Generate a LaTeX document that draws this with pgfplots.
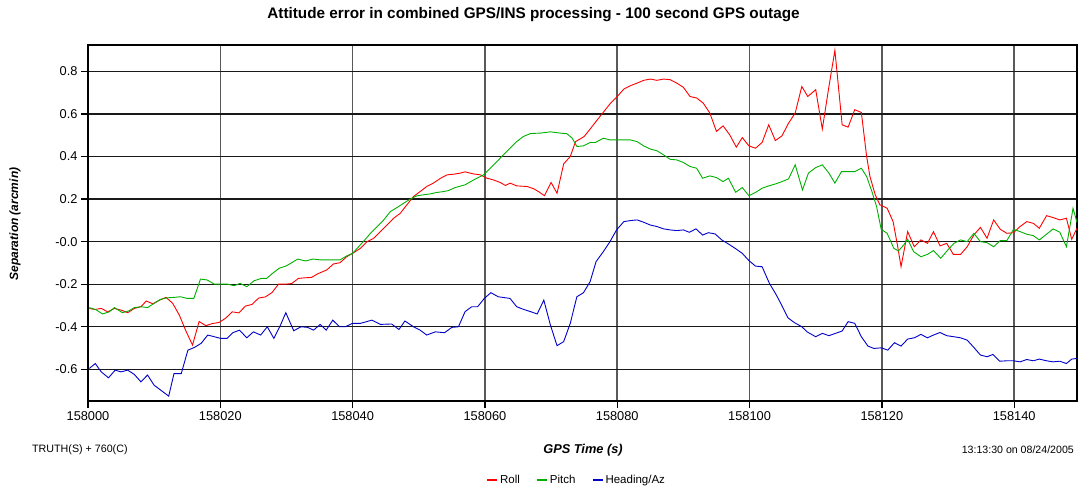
\documentclass[border=0pt]{standalone}
\usepackage{pgfplots}
\pgfplotsset{compat=1.18}
\usepackage{fontspec}
\setmainfont{Liberation Sans}
\definecolor{cRoll}{RGB}{255,0,0}
\definecolor{cPitch}{RGB}{0,176,0}
\definecolor{cHead}{RGB}{0,0,200}
\begin{document}
\begin{tikzpicture}
\path[use as bounding box] (0pt,0pt) rectangle (1078pt,491pt);
\node[font=\bfseries\fontsize{15.3}{18}\selectfont] at (533.5pt,476pt) {Attitude error in combined GPS/INS processing - 100 second GPS outage};
\node[font=\bfseries\itshape\fontsize{12}{14}\selectfont, rotate=90] at (15pt,267pt) {Separation (arcmin)};
\node[font=\bfseries\itshape\fontsize{12.8}{14}\selectfont] at (583pt,41pt) {GPS Time (s)};
\node[font=\fontsize{10.7}{12}\selectfont, anchor=west, inner sep=0pt] at (32pt,41pt) {TRUTH(S) + 760(C)};
\node[font=\fontsize{10.6}{12}\selectfont, anchor=east, inner sep=0pt] at (1074pt,41pt) {13:13:30 on 08/24/2005};
\begin{axis}[
  at={(88pt,90pt)}, anchor=south west,
  scale only axis, width=989pt, height=356pt,
  xmin=0, xmax=149.5, ymin=-0.749, ymax=0.924,
  xtick={0,20,40,60,80,100,120,140},
  xticklabels={158000,158020,158040,158060,158080,158100,158120,158140},
  ytick={-0.6,-0.4,-0.2,0,0.2,0.4,0.6,0.8},
  yticklabels={-0.6,-0.4,-0.2,-0.0,0.2,0.4,0.6,0.8},
  tick label style={font=\fontsize{12.8}{14}\selectfont},
  tick pos=left, tick align=outside, major tick length=7pt,
  tick style={line width=1.3pt, black},
  grid=major,
  major x grid style={line width=1.5pt, black!65},
  major y grid style={line width=1.3pt, black!90},
  axis line style={line width=2.2pt},
  legend style={at={(axis description cs:0.494,-0.222)}, anchor=center, draw=none, fill=none,
    font=\fontsize{11.5}{13}\selectfont, legend columns=-1,
    /tikz/every even column/.append style={column sep=14pt}},
  legend image code/.code={\draw[#1, line width=2pt] (0pt,0pt) -- (10pt,0pt);},
  every axis plot/.append style={line width=0.9pt, mark=none},
]
\addplot[cRoll] table {
0.2 -0.314
1 -0.319
2 -0.314
3 -0.330
4 -0.314
5 -0.322
6 -0.334
7 -0.314
8 -0.306
8.8 -0.279
9.8 -0.292
10.8 -0.275
11.8 -0.262
12.8 -0.29
13.8 -0.345
14.8 -0.42
15.8 -0.486
16.8 -0.375
17.8 -0.395
18.8 -0.385
19.8 -0.38
20.8 -0.36
21.8 -0.33
22.8 -0.335
23.8 -0.303
24.8 -0.295
25.8 -0.265
26.8 -0.26
27.8 -0.24
28.8 -0.2
29.8 -0.2
30.8 -0.197
31.8 -0.173
32.8 -0.17
33.8 -0.168
34.8 -0.15
36.1 -0.133
37.1 -0.105
38.1 -0.099
39.1 -0.071
40 -0.055
41.2 -0.031
42.2 0.0
43.2 0.016
44.2 0.047
45.2 0.078
46.2 0.11
47.2 0.133
48.2 0.173
49.2 0.212
50.2 0.235
51.2 0.259
52.2 0.275
53.3 0.298
54.3 0.314
55.3 0.317
56.3 0.322
57.0 0.328
58.3 0.318
59.3 0.314
60.3 0.298
61.3 0.29
62.3 0.278
63.1 0.264
63.8 0.275
64.8 0.262
66.4 0.259
67.4 0.248
68.1 0.235
69.0 0.216
70.0 0.278
70.9 0.227
71.9 0.365
72.9 0.40
73.7 0.47
75 0.494
76 0.533
77 0.573
78 0.612
79 0.651
80 0.682
81 0.717
82 0.733
83 0.745
84 0.758
85 0.764
86 0.758
87 0.764
88 0.761
89 0.745
90 0.725
91 0.682
92 0.675
93 0.651
94 0.604
95 0.518
96 0.544
97 0.502
98 0.444
98.9 0.489
99.9 0.45
100.9 0.439
101.9 0.466
102.9 0.549
103.9 0.475
104.9 0.497
105.9 0.557
106.9 0.604
107.9 0.729
108.8 0.682
110 0.714
111 0.529
112 0.729
112.9 0.899
114 0.549
114.9 0.538
115.9 0.62
116.9 0.607
117.7 0.40
118.2 0.306
119 0.22
119.7 0.173
120.8 0.157
121.7 0.094
122.4 -0.024
122.9 -0.118
123.9 0.047
124.9 -0.024
125.9 0.008
126.9 -0.008
127.8 0.047
128.8 -0.02
129.8 -0.008
130.8 -0.06
131.9 -0.06
132.9 -0.024
133.9 0.031
134.9 0.067
135.9 0.016
136.9 0.102
137.9 0.058
138.9 0.039
139.9 0.042
140.9 0.071
141.9 0.094
142.9 0.086
143.8 0.063
144.9 0.122
145.9 0.113
146.9 0.102
147.9 0.11
148.7 0.011
149.5 0.063
};
\addlegendentry{Roll}
\addplot[cPitch] table {
0.2 -0.31
1.2 -0.32
2.2 -0.34
3.2 -0.33
4 -0.31
5.2 -0.334
6.2 -0.325
7 -0.31
8 -0.306
9 -0.31
10 -0.29
11 -0.271
12 -0.264
13 -0.262
14 -0.259
15 -0.267
16 -0.267
17 -0.176
18 -0.18
19.1 -0.2
20.1 -0.2
21.1 -0.2
22.1 -0.207
23 -0.196
24 -0.212
25.1 -0.184
26.2 -0.173
27 -0.173
27.9 -0.149
28.9 -0.125
29.9 -0.115
30.8 -0.099
31.7 -0.082
32.9 -0.091
34 -0.082
35.2 -0.086
37 -0.086
38.1 -0.086
39.1 -0.067
40 -0.055
40.7 -0.031
41.7 0.003
42.7 0.039
43.7 0.07
44.7 0.102
45.7 0.141
46.7 0.16
47.7 0.18
48.7 0.2
49.7 0.215
50.7 0.22
51.7 0.224
52.7 0.231
53.7 0.235
54.5 0.24
55.5 0.254
57 0.267
58.3 0.29
59.8 0.314
60.8 0.345
61.8 0.376
62.8 0.408
63.8 0.439
64.8 0.47
65.8 0.494
66.9 0.508
68.4 0.51
69.9 0.516
71.4 0.51
72.4 0.507
73.2 0.486
73.9 0.447
74.9 0.45
75.9 0.466
76.7 0.466
77.9 0.486
78.9 0.478
80 0.478
82 0.478
83 0.47
84 0.45
85 0.435
86 0.427
87 0.408
88 0.387
89 0.384
90 0.372
91 0.353
92 0.345
92.9 0.298
94 0.309
95 0.301
96 0.282
96.8 0.298
97.9 0.232
98.9 0.254
99.9 0.216
100.9 0.231
101.9 0.251
102.9 0.262
103.9 0.271
104.9 0.282
105.9 0.295
106.9 0.361
108 0.243
108.9 0.322
110 0.348
111 0.361
112 0.322
112.9 0.275
113.9 0.329
114.9 0.329
115.9 0.329
116.9 0.345
117.7 0.306
118.5 0.235
119.2 0.165
119.9 0.058
120.8 0.039
121.8 -0.031
122.5 -0.044
123.3 -0.016
123.9 0.011
124.8 -0.047
125.9 -0.071
126.9 -0.06
127.8 -0.042
128.9 -0.078
129.9 -0.042
130.9 -0.008
131.9 0.008
132.9 0.0
133.9 0.039
134.9 0.0
135.9 -0.005
136.9 -0.024
137.9 0.005
138.9 0.005
139.9 0.058
140.9 0.047
141.9 0.035
142.9 0.028
143.8 0.008
144.9 0.035
145.9 0.06
146.9 0.044
147.9 -0.024
148.9 0.157
149.5 0.09
};
\addlegendentry{Pitch}
\addplot[cHead] table {
0.2 -0.596
1.1 -0.573
2 -0.612
3.1 -0.64
4.1 -0.604
5 -0.612
6 -0.604
7 -0.624
8 -0.659
9 -0.627
10 -0.675
11 -0.698
12.2 -0.726
13 -0.62
14.1 -0.62
15.1 -0.51
16.1 -0.497
17.1 -0.478
18.1 -0.439
19.1 -0.447
20.1 -0.455
21 -0.455
21.9 -0.428
22.9 -0.416
24 -0.452
25 -0.424
26.1 -0.439
27.1 -0.4
28.1 -0.455
29.1 -0.392
29.9 -0.334
31.1 -0.419
32.2 -0.4
33.2 -0.403
34.1 -0.416
35.1 -0.389
36 -0.416
37 -0.369
38 -0.4
38.9 -0.4
40 -0.384
41.2 -0.384
42.9 -0.369
44.2 -0.389
45.9 -0.387
47 -0.413
47.9 -0.373
49.2 -0.4
50.2 -0.416
51.2 -0.439
52.5 -0.424
53.9 -0.428
55 -0.403
56 -0.4
57 -0.329
58 -0.306
58.9 -0.306
59.9 -0.267
60.9 -0.24
62 -0.259
63.8 -0.267
64.8 -0.306
65.8 -0.318
66.9 -0.329
67.9 -0.34
68.9 -0.275
69.9 -0.392
70.9 -0.489
71.9 -0.47
72.9 -0.384
73.9 -0.259
74.9 -0.24
75.9 -0.188
76.8 -0.094
77.9 -0.047
78.9 0.0
79.9 0.055
81 0.094
82 0.099
83 0.102
84 0.091
85 0.078
86 0.071
87 0.06
88 0.055
89 0.052
90 0.055
90.9 0.044
91.9 0.06
92.9 0.031
93.8 0.042
94.8 0.036
95.8 0.008
96.8 -0.011
97.8 -0.031
98.9 -0.055
99.9 -0.089
100.9 -0.115
101.9 -0.118
103 -0.196
104 -0.248
104.9 -0.301
105.8 -0.358
106.8 -0.381
107.9 -0.4
108.7 -0.424
110 -0.447
111 -0.431
112 -0.442
113 -0.431
114 -0.42
114.9 -0.376
115.9 -0.384
116.9 -0.447
117.9 -0.491
118.8 -0.502
119.9 -0.499
120.9 -0.51
121.9 -0.475
122.9 -0.491
123.9 -0.458
124.9 -0.452
125.9 -0.436
126.9 -0.452
127.8 -0.439
128.8 -0.427
129.8 -0.442
130.9 -0.447
131.9 -0.452
132.9 -0.463
133.9 -0.497
134.9 -0.533
135.9 -0.541
136.8 -0.53
137.8 -0.562
138.9 -0.56
139.9 -0.56
140.9 -0.565
141.9 -0.554
142.9 -0.56
143.8 -0.552
144.9 -0.56
145.9 -0.565
146.9 -0.562
147.9 -0.573
148.7 -0.552
149.5 -0.549
};
\addlegendentry{Heading/Az}
\end{axis}
\end{tikzpicture}
\end{document}
